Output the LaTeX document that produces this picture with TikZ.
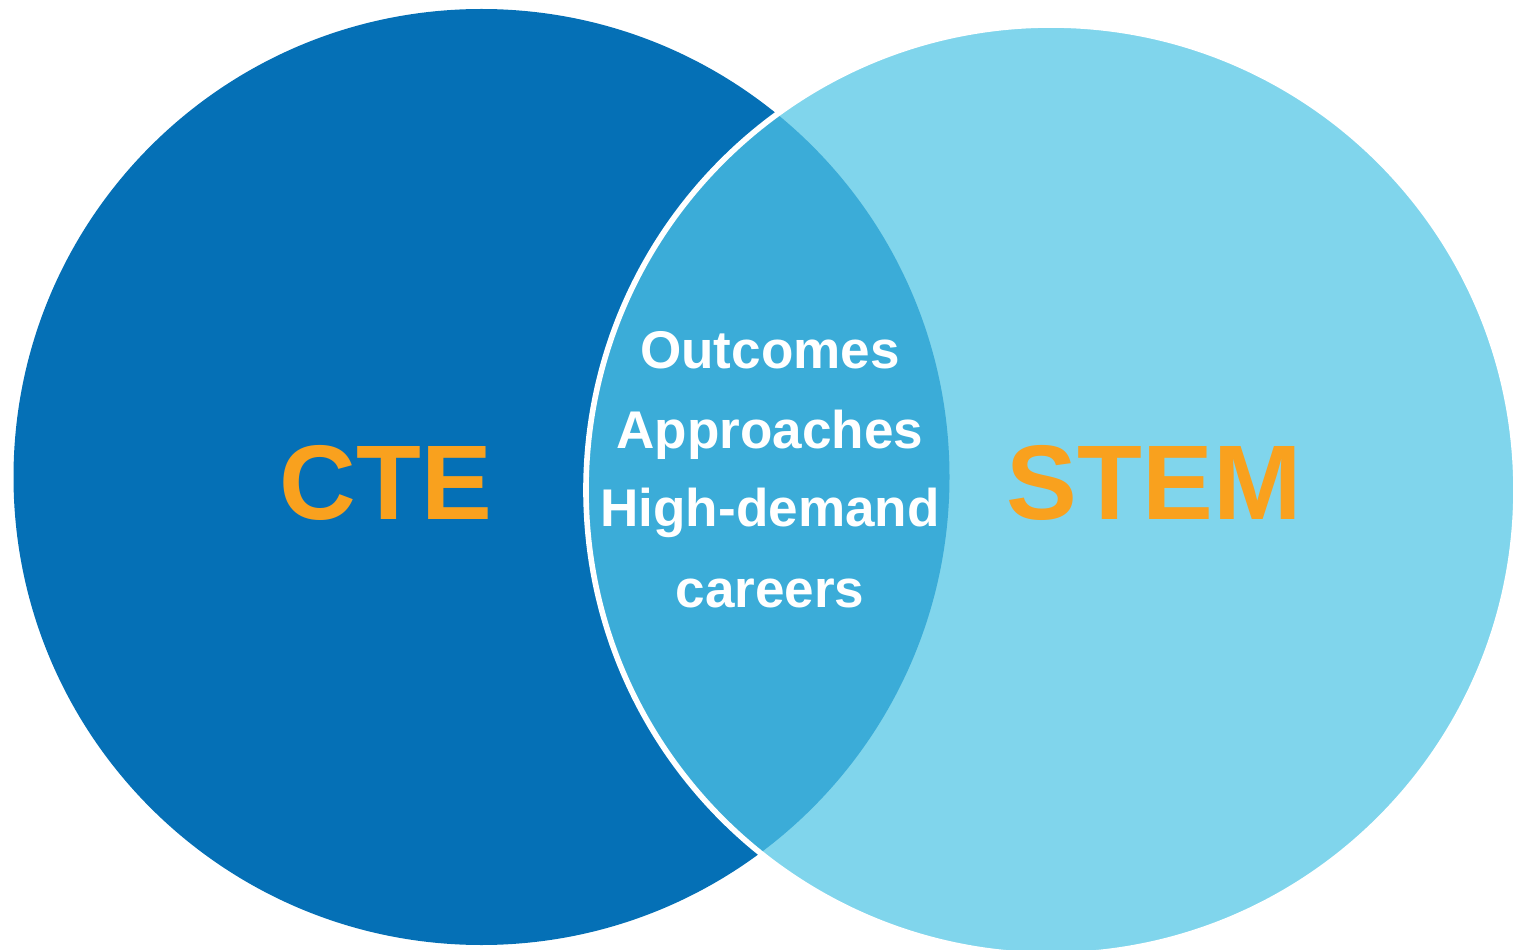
\documentclass[tikz,border=0pt]{standalone}
\usepackage{fontspec}
\setmainfont{Liberation Sans}
\definecolor{ctedark}{RGB}{5,112,182}
\definecolor{stemlight}{RGB}{128,213,236}
\definecolor{overlap}{RGB}{59,172,216}
\definecolor{labelorange}{RGB}{249,161,30}
\tikzset{
  bigword/.style={labelorange,font=\fontsize{30.2pt}{36pt}\selectfont\bfseries,anchor=base,inner sep=0pt},
  smallword/.style={white,font=\fontsize{15.1pt}{18pt}\selectfont\bfseries,anchor=base,inner sep=0pt}
}
\begin{document}
\begin{tikzpicture}
\useasboundingbox (0,0) rectangle (15.15,9.49);
\fill [ctedark] (4.815,4.72) circle (4.68);
\fill [stemlight] (10.51,4.59) circle (4.65);
\begin{scope}
\clip (4.815,4.72) circle (4.68);
\fill [overlap] (10.51,4.59) circle (4.65);
\end{scope}
\draw [white,line width=1.6pt] (10.51,4.59) circle (4.65);
\node [bigword] (cte) at (3.86,4.30) {CTE};
\node [bigword] (stem) at (11.54,4.30) {STEM};
\node [smallword] (outcomes) at (7.70,5.80) {Outcomes};
\node [smallword] (approaches) at (7.70,5.01) {Approaches};
\node [smallword] (highdemand) at (7.70,4.22) {High-demand};
\node [smallword] (careers) at (7.70,3.42) {careers};
\end{tikzpicture}
\end{document}
